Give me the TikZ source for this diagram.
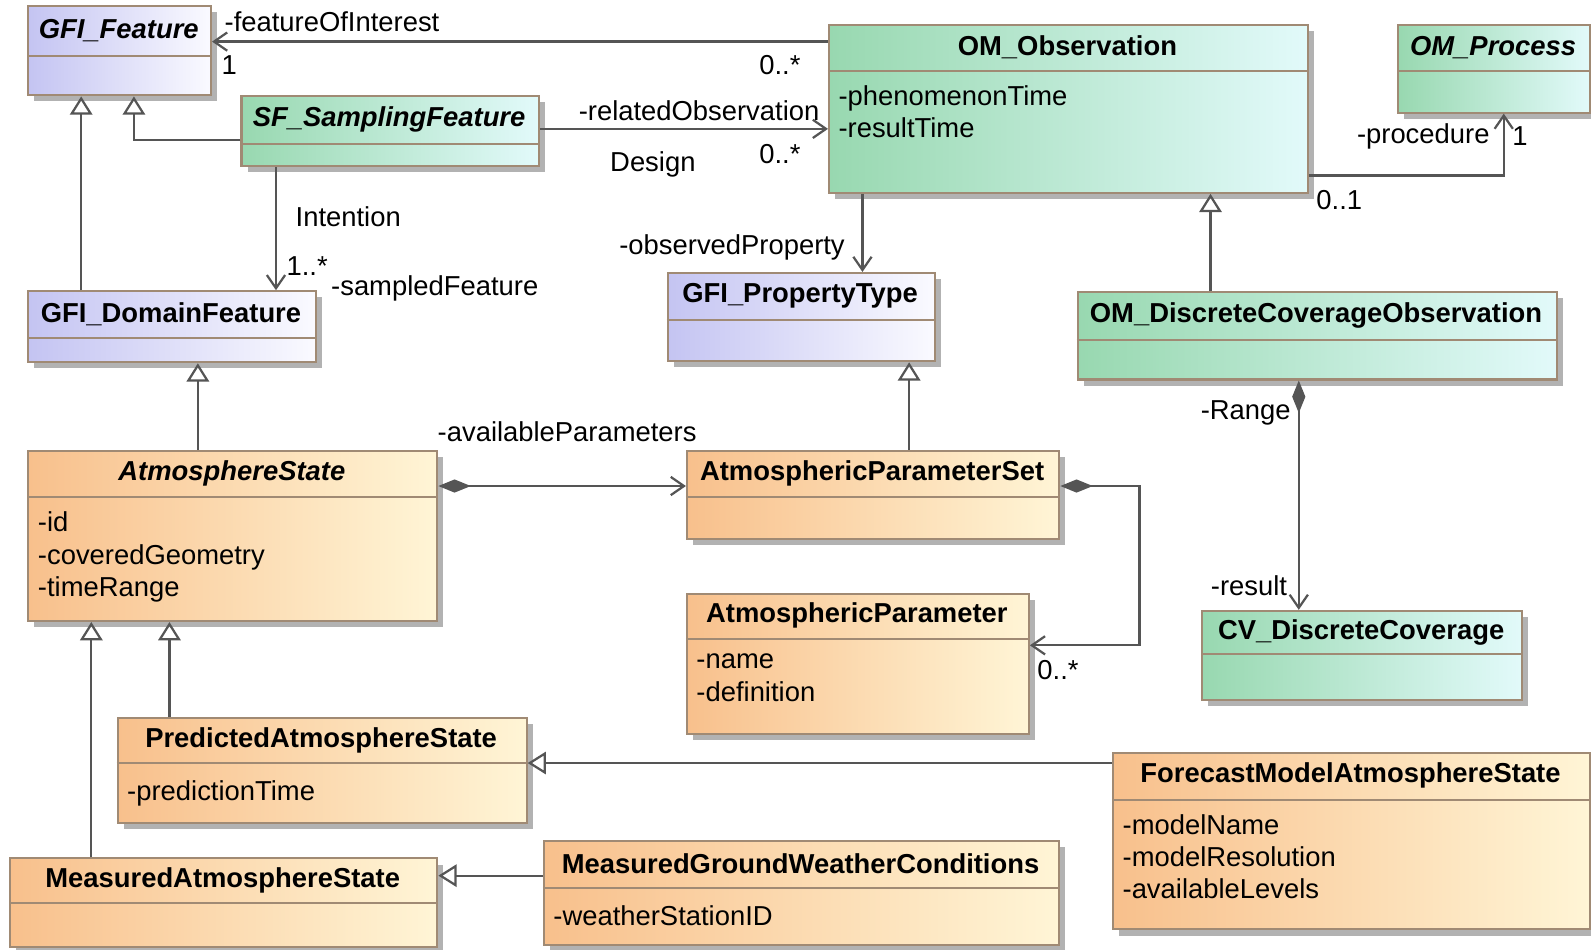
\documentclass[tikz,border=0pt]{standalone}
\usepackage{fontspec}
\setmainfont{Liberation Sans}
\usetikzlibrary{arrows.meta, shadows}

\definecolor{clsline}{HTML}{A08A74}
\definecolor{blueL}{HTML}{C4C4F2}
\definecolor{blueR}{HTML}{FAFAFF}
\definecolor{greenL}{HTML}{98D8B0}
\definecolor{greenR}{HTML}{E2FAFA}
\definecolor{orangeL}{HTML}{F8C08C}
\definecolor{orangeR}{HTML}{FFF5D6}
\definecolor{linkgray}{HTML}{555555}
\newcommand{\diagfont}{\fontsize{13.5pt}{16pt}\selectfont}

% name, style, x1, y1, x2, y2, divider, title, attributes
\newcommand{\umlclass}[9]{%
  \node[#2, minimum width={(#5-#3)*0.5pt}, minimum height={(#6-#4)*0.5pt}, anchor=north west] (#1) at (#3,#4) {};
  \draw[clsline, line width=1pt] (#3,#7) -- (#5,#7);
  \node[ttl] (#1-name) at ({(#3+#5)/2},{(#4+#7)/2}) {#8};
  \node[attrs] (#1-attr) at (#3,#7) {#9};
}

\begin{document}
\begin{tikzpicture}[
      x=0.5pt, y=-0.5pt,
      cls/.style={draw=clsline, line width=1pt, inner sep=0pt,
                  drop shadow={shadow xshift=3pt, shadow yshift=-3pt, fill=black!30, opacity=1}},
      bluecls/.style={cls, left color=blueL, right color=blueR},
      greencls/.style={cls, left color=greenL, right color=greenR},
      orangecls/.style={cls, left color=orangeL, right color=orangeR},
      ttl/.style={font=\diagfont\bfseries, inner sep=0pt},
      attrs/.style={font=\diagfont, align=left, anchor=north west, inner xsep=5pt,
                    inner ysep=7pt, execute at begin node=\strut},
      lbl/.style={font=\diagfont, inner sep=0pt, anchor=west},
      link/.style={draw=linkgray, line width=1.1pt},
      assoc/.style={link, -{Straight Barb[length=6.5pt, width=9pt]}},
      gen/.style={link, -{Triangle[open, length=9pt, width=11pt]}},
      comp/.style={link, {Diamond[length=16pt, width=6.5pt]}-{Straight Barb[length=6.5pt, width=9pt]}}
    ]
    \useasboundingbox (0,0) rectangle (1568,936);

    % classes
    \umlclass{gfi}{bluecls}{27}{5}{207}{93}{55}{\itshape GFI\_Feature}{}
    \umlclass{sf}{greencls}{237}{94}{530}{163}{142}{\itshape SF\_SamplingFeature}{}
    \umlclass{obs}{greencls}{816}{24}{1288}{189}{70}{OM\_Observation}{-phenomenonTime\\-resultTime}
    \umlclass{proc}{greencls}{1377}{24}{1566}{110}{70}{\itshape OM\_Process}{}
    \umlclass{dom}{bluecls}{27}{286}{310}{356}{333}{GFI\_DomainFeature}{}
    \umlclass{prop}{bluecls}{657}{268}{920}{355}{315}{GFI\_PropertyType}{}
    \umlclass{dco}{greencls}{1061}{287}{1533}{373}{335}{OM\_DiscreteCoverageObservation}{}
    \umlclass{atm}{orangecls}{27}{443}{430}{611}{490}{\itshape AtmosphereState}{-id\\-coveredGeometry\\-timeRange}
    \umlclass{aps}{orangecls}{676}{443}{1043}{530}{490}{AtmosphericParameterSet}{}
    \umlclass{ap}{orangecls}{676}{584}{1013}{722}{630}{AtmosphericParameter}{-name\\-definition}
    \umlclass{cov}{greencls}{1184}{601}{1499}{689}{645}{CV\_DiscreteCoverage}{}
    \umlclass{pred}{orangecls}{115}{707}{518}{810}{752}{PredictedAtmosphereState}{-predictionTime}
    \umlclass{fcst}{orangecls}{1096}{741}{1566}{915}{788}{ForecastModelAtmosphereState}{-modelName\\-modelResolution\\-availableLevels}
    \umlclass{meas}{orangecls}{9}{845}{430}{932}{890}{MeasuredAtmosphereState}{}
    \umlclass{mgwc}{orangecls}{535}{828}{1043}{930}{875}{MeasuredGroundWeatherConditions}{-weatherStationID}

    % associations
    \draw[assoc] (obs.west |- 0,41) -- (gfi.east |- 0,41);
    \draw[assoc] (sf.east |- 0,127) -- (obs.west |- 0,127);
    \draw[assoc] (obs.east |- 0,173) -| (1482,0 |- proc.south);
    \draw[assoc] (850,0 |- obs.south) -- (850,0 |- prop.north);
    \draw[assoc] (272,0 |- sf.south) -- (272,0 |- dom.north);
    \draw[comp] (atm.east |- 0,479) -- (aps.west |- 0,479);
    \draw[comp] (aps.east |- 0,479) -| (1123,560) |- (ap.east |- 0,636);
    \draw[comp] (1280,0 |- dco.south) -- (1280,0 |- cov.north);

    % generalizations
    \draw[gen] (80,0 |- dom.north) -- (80,0 |- gfi.south);
    \draw[gen] (sf.west |- 0,138) -| (132,0 |- gfi.south);
    \draw[gen] (1193,0 |- dco.north) -- (1193,0 |- obs.south);
    \draw[gen] (195,0 |- atm.north) -- (195,0 |- dom.south);
    \draw[gen] (896,0 |- aps.north) -- (896,0 |- prop.south);
    \draw[gen] (167,0 |- pred.north) -- (167,0 |- atm.south);
    \draw[gen] (90,0 |- meas.north) -- (90,0 |- atm.south);
    \draw[gen] (fcst.west |- 0,752) -- (pred.east |- 0,752);
    \draw[gen] (mgwc.west |- 0,863) -- (meas.east |- 0,863);

    % role names and multiplicities
    \node[lbl] (foi-role) at (221,21) {-featureOfInterest};
    \node[lbl] (foi-one) at (218,64) {1};
    \node[lbl] (foi-many) at (748,64) {0..*};
    \node[lbl] (rel-role) at (570,109) {-relatedObservation};
    \node[lbl] (rel-many) at (748,152) {0..*};
    \node[lbl] (rel-design) at (601,162) {Design};
    \node[lbl] (proc-role) at (1337,134) {-procedure};
    \node[lbl] (proc-one) at (1490,134) {1};
    \node[lbl] (proc-opt) at (1297,197) {0..1};
    \node[lbl] (prop-role) at (610,244) {-observedProperty};
    \node[lbl] (smp-intent) at (291,214) {Intention};
    \node[lbl] (smp-many) at (282,262) {1..*};
    \node[lbl] (smp-role) at (326,284) {-sampledFeature};
    \node[lbl] (aps-role) at (431,425) {-availableParameters};
    \node[lbl] (ap-many) at (1022,660) {0..*};
    \node[lbl] (cov-range) at (1183,407) {-Range};
    \node[lbl] (cov-role) at (1193,577) {-result};
  \end{tikzpicture}
\end{document}
